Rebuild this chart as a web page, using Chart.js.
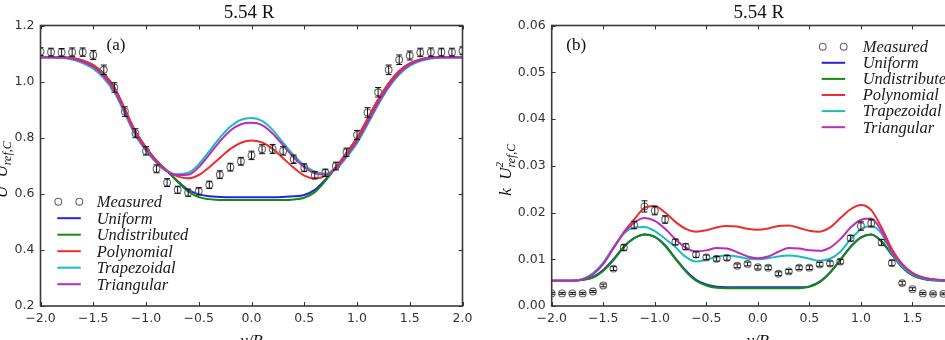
<!DOCTYPE html>
<html>
<head>
<meta charset="utf-8">
<script src="https://cdn.jsdelivr.net/npm/chart.js@4.4.1/dist/chart.umd.min.js"></script>
<style>
  html, body { margin: 0; padding: 0; background: #fff; }
  body { width: 945px; height: 340px; overflow: hidden; position: relative; }
  .panel { position: absolute; top: 0; height: 340px; }
  #wrapA { left: 0; width: 480px; }
  #wrapB { left: 480px; width: 500px; }
</style>
</head>
<body>
<div class="panel" id="wrapA"><canvas id="chartA" width="480" height="340"></canvas></div>
<div class="panel" id="wrapB"><canvas id="chartB" width="500" height="340"></canvas></div>
<script>
// --- data ---
const xGrid = [-2.0, -1.9, -1.8, -1.7, -1.6, -1.5, -1.4, -1.3, -1.2, -1.1, -1.0, -0.9, -0.8, -0.7, -0.6, -0.5, -0.4, -0.3, -0.2, -0.1,
  0.0, 0.1, 0.2, 0.3, 0.4, 0.5, 0.6, 0.7, 0.8, 0.9, 1.0, 1.1, 1.2, 1.3, 1.4, 1.5, 1.6, 1.7, 1.8, 1.9, 2.0];
const xTicks = [-2.0, -1.5, -1.0, -0.5, 0.0, 0.5, 1.0, 1.5, 2.0];
const yTicksA = [0.2, 0.4, 0.6, 0.8, 1.0, 1.2];
const yTicksB = [0.00, 0.01, 0.02, 0.03, 0.04, 0.05, 0.06];
const seriesNames = ["Measured", "Uniform", "Undistributed", "Polynomial", "Trapezoidal", "Triangular"];

// (a) U / U_ref,C
const measXA = xGrid;
const measA = [1.107, 1.105, 1.104, 1.105, 1.105, 1.095, 1.042, 0.979, 0.893, 0.816, 0.753, 0.689, 0.640, 0.614, 0.604, 0.609, 0.632, 0.668, 0.695, 0.716,
  0.737, 0.759, 0.760, 0.753, 0.723, 0.693, 0.666, 0.675, 0.699, 0.748, 0.810, 0.890, 0.962, 1.042, 1.078, 1.093, 1.104, 1.105, 1.105, 1.105, 1.110];
const errA = [0.014, 0.014, 0.014, 0.015, 0.015, 0.016, 0.017, 0.017, 0.017, 0.016, 0.015, 0.014, 0.014, 0.013, 0.013, 0.013, 0.013, 0.014, 0.014, 0.014,
  0.015, 0.016, 0.016, 0.015, 0.015, 0.014, 0.013, 0.013, 0.014, 0.015, 0.016, 0.017, 0.017, 0.017, 0.017, 0.016, 0.015, 0.015, 0.014, 0.014, 0.014];
const uniformA = [1.087, 1.087, 1.086, 1.083, 1.073, 1.057, 1.025, 0.975, 0.897, 0.818, 0.762, 0.716, 0.681, 0.645, 0.614, 0.598, 0.591, 0.589, 0.588, 0.588,
  0.588, 0.588, 0.588, 0.589, 0.591, 0.596, 0.614, 0.650, 0.694, 0.742, 0.795, 0.862, 0.930, 0.990, 1.035, 1.063, 1.078, 1.085, 1.087, 1.087, 1.087];
const undistA = [1.087, 1.087, 1.086, 1.084, 1.075, 1.059, 1.028, 0.979, 0.901, 0.822, 0.765, 0.718, 0.682, 0.643, 0.608, 0.588, 0.581, 0.578, 0.578, 0.578,
  0.578, 0.578, 0.578, 0.578, 0.580, 0.586, 0.606, 0.646, 0.694, 0.744, 0.798, 0.866, 0.934, 0.993, 1.037, 1.064, 1.079, 1.085, 1.087, 1.087, 1.087];
const polyA = [1.087, 1.087, 1.086, 1.084, 1.075, 1.059, 1.028, 0.979, 0.902, 0.823, 0.766, 0.718, 0.682, 0.662, 0.655, 0.667, 0.695, 0.728, 0.760, 0.782,
  0.790, 0.783, 0.760, 0.727, 0.693, 0.665, 0.655, 0.664, 0.696, 0.746, 0.800, 0.868, 0.936, 0.994, 1.038, 1.065, 1.079, 1.085, 1.087, 1.087, 1.087];
const trapA = [1.087, 1.087, 1.085, 1.079, 1.066, 1.046, 1.012, 0.962, 0.885, 0.808, 0.754, 0.710, 0.680, 0.670, 0.675, 0.705, 0.752, 0.800, 0.840, 0.864,
  0.870, 0.860, 0.828, 0.782, 0.738, 0.702, 0.679, 0.672, 0.688, 0.730, 0.780, 0.847, 0.917, 0.978, 1.025, 1.056, 1.073, 1.082, 1.086, 1.087, 1.087];
const triA = [1.087, 1.087, 1.086, 1.081, 1.070, 1.052, 1.019, 0.969, 0.892, 0.813, 0.758, 0.713, 0.680, 0.667, 0.668, 0.695, 0.740, 0.787, 0.826, 0.848,
  0.853, 0.845, 0.815, 0.773, 0.730, 0.695, 0.673, 0.668, 0.690, 0.736, 0.787, 0.854, 0.923, 0.984, 1.030, 1.060, 1.076, 1.084, 1.087, 1.087, 1.087];

// (b) k / U^2_ref,C
const measXB = [-2.0, -1.9, -1.8, -1.7, -1.6, -1.5, -1.4, -1.3, -1.2, -1.1, -1.0, -0.9, -0.8, -0.7, -0.6, -0.5, -0.4, -0.3, -0.2, -0.1,
  0.0, 0.1, 0.2, 0.3, 0.4, 0.5, 0.6, 0.7, 0.8, 0.9, 1.0, 1.1, 1.2, 1.3, 1.4, 1.5, 1.6, 1.7, 1.8];
const measB = [0.0027, 0.0027, 0.0027, 0.0027, 0.0031, 0.0044, 0.0080, 0.0125, 0.0173, 0.0213, 0.0204, 0.0185, 0.0137, 0.0127, 0.0110, 0.0104, 0.0101, 0.0103, 0.0086, 0.0090,
  0.0083, 0.0082, 0.0069, 0.0074, 0.0082, 0.0082, 0.0089, 0.0091, 0.0095, 0.0145, 0.0171, 0.0177, 0.0136, 0.0092, 0.0049, 0.0036, 0.0027, 0.0026, 0.0026];
const errB = [0.0002, 0.0002, 0.0002, 0.0002, 0.0002, 0.0003, 0.0004, 0.0006, 0.0008, 0.0012, 0.0009, 0.0008, 0.0006, 0.0006, 0.0006, 0.0005, 0.0005, 0.0005, 0.0004, 0.0004,
  0.0004, 0.0004, 0.0004, 0.0004, 0.0004, 0.0004, 0.0004, 0.0005, 0.0005, 0.0006, 0.0009, 0.0008, 0.0006, 0.0006, 0.0004, 0.0003, 0.0002, 0.0002, 0.0002];
const uniformB = [0.0054, 0.0054, 0.0054, 0.0056, 0.0062, 0.0077, 0.0100, 0.0127, 0.0145, 0.0153, 0.0148, 0.0130, 0.0102, 0.0076, 0.0056, 0.0046, 0.0041, 0.0040, 0.0040, 0.0040,
  0.0040, 0.0040, 0.0040, 0.0040, 0.0040, 0.0042, 0.0052, 0.0072, 0.0099, 0.0127, 0.0147, 0.0153, 0.0138, 0.0110, 0.0083, 0.0066, 0.0058, 0.0055, 0.0054, 0.0054, 0.0054];
const undistB = [0.0054, 0.0054, 0.0054, 0.0056, 0.0061, 0.0075, 0.0098, 0.0126, 0.0145, 0.0153, 0.0148, 0.0129, 0.0101, 0.0074, 0.0054, 0.0044, 0.0039, 0.0038, 0.0038, 0.0038,
  0.0038, 0.0038, 0.0038, 0.0038, 0.0038, 0.0041, 0.0051, 0.0071, 0.0098, 0.0126, 0.0146, 0.0153, 0.0138, 0.0110, 0.0083, 0.0066, 0.0058, 0.0055, 0.0054, 0.0054, 0.0054];
const polyB = [0.0054, 0.0054, 0.0054, 0.0057, 0.0068, 0.0090, 0.0124, 0.0158, 0.0185, 0.0210, 0.0214, 0.0200, 0.0180, 0.0165, 0.0159, 0.0162, 0.0168, 0.0171, 0.0170, 0.0165,
  0.0163, 0.0166, 0.0171, 0.0172, 0.0167, 0.0161, 0.0159, 0.0168, 0.0188, 0.0207, 0.0216, 0.0205, 0.0168, 0.0122, 0.0090, 0.0071, 0.0061, 0.0057, 0.0055, 0.0054, 0.0054];
const trapB = [0.0054, 0.0054, 0.0054, 0.0058, 0.0070, 0.0093, 0.0126, 0.0155, 0.0168, 0.0169, 0.0160, 0.0144, 0.0126, 0.0105, 0.0095, 0.0099, 0.0105, 0.0108, 0.0106, 0.0101,
  0.0100, 0.0102, 0.0106, 0.0108, 0.0106, 0.0101, 0.0097, 0.0101, 0.0116, 0.0143, 0.0164, 0.0171, 0.0155, 0.0114, 0.0085, 0.0068, 0.0060, 0.0056, 0.0055, 0.0054, 0.0054];
const triB = [0.0054, 0.0054, 0.0054, 0.0057, 0.0068, 0.0090, 0.0124, 0.0156, 0.0178, 0.0188, 0.0182, 0.0165, 0.0143, 0.0125, 0.0117, 0.0119, 0.0124, 0.0123, 0.0115, 0.0106,
  0.0102, 0.0106, 0.0116, 0.0124, 0.0123, 0.0119, 0.0118, 0.0125, 0.0143, 0.0168, 0.0184, 0.0187, 0.0160, 0.0116, 0.0088, 0.0070, 0.0061, 0.0057, 0.0055, 0.0054, 0.0054];

// --- styles ---
const lineColors = ["#2424e0", "#138a13", "#ee2c2c", "#1cbcbc", "#bb2cbb"];
const TICK_FONT = { family: "DejaVu Sans", size: 12.5 };
const SERIF = "'Liberation Serif', 'Times New Roman', serif";

function fmt(v, d) {
  return Number(v).toFixed(d).replace("-", "\u2212");
}

function pts(xs, ys) {
  return xs.map((x, i) => ({ x: x, y: ys[i] }));
}

function buildDatasets(measX, meas, err, lines) {
  const ds = [{
    label: seriesNames[0],
    data: pts(measX, meas),
    errors: err,
    showLine: false,
    pointStyle: "circle",
    pointRadius: 3.4,
    pointBorderColor: "#666",
    pointBackgroundColor: "rgba(0,0,0,0)",
    pointBorderWidth: 1.1,
    order: 0,
    clip: 0,
  }];
  lines.forEach((ys, i) => {
    ds.push({
      label: seriesNames[i + 1],
      data: pts(xGrid, ys),
      borderColor: lineColors[i],
      borderWidth: 2,
      pointRadius: 0,
      cubicInterpolationMode: "monotone",
      fill: false,
      order: 5 - i,
      clip: 0,
    });
  });
  return ds;
}

// --- decorations: error bars, frame, inward ticks, titles, legend ---
function drawRich(ctx, parts, x, y) {
  // parts: {t, size, dy, keep}
  let cx = x;
  parts.forEach((p) => {
    ctx.font = "italic " + p.size + "px " + SERIF;
    ctx.fillText(p.t, cx, y + (p.dy || 0));
    if (!p.keep) cx += ctx.measureText(p.t).width;
  });
  return cx - x;
}

function richWidth(ctx, parts) {
  let w = 0;
  parts.forEach((p) => {
    ctx.font = "italic " + p.size + "px " + SERIF;
    if (!p.keep) w += ctx.measureText(p.t).width;
  });
  return w;
}

const decor = {
  id: "decor",
  afterDatasetsDraw(chart) {
    const ctx = chart.ctx;
    const a = chart.chartArea;
    const ds = chart.data.datasets[0];
    const meta = chart.getDatasetMeta(0);
    const ys = chart.scales.y;
    ctx.save();
    ctx.beginPath();
    ctx.rect(a.left, a.top, a.right - a.left, a.bottom - a.top);
    ctx.clip();
    ctx.strokeStyle = "#111";
    ctx.lineWidth = 1;
    ds.data.forEach((p, i) => {
      const e = ds.errors[i];
      const px = meta.data[i].x;
      const y1 = ys.getPixelForValue(p.y + e);
      const y2 = ys.getPixelForValue(p.y - e);
      ctx.beginPath();
      ctx.moveTo(px, y1); ctx.lineTo(px, y2);
      ctx.moveTo(px - 3, y1); ctx.lineTo(px + 3, y1);
      ctx.moveTo(px - 3, y2); ctx.lineTo(px + 3, y2);
      ctx.stroke();
    });
    ctx.restore();
  },
  afterDraw(chart, args, o) {
    const ctx = chart.ctx;
    const a = chart.chartArea;
    const xs = chart.scales.x;
    const ys = chart.scales.y;
    ctx.save();

    // inward ticks
    ctx.strokeStyle = "#333";
    ctx.lineWidth = 1;
    ctx.beginPath();
    xTicks.forEach((v) => {
      const px = Math.round(xs.getPixelForValue(v)) + 0.5;
      ctx.moveTo(px, a.bottom); ctx.lineTo(px, a.bottom - 4);
      ctx.moveTo(px, a.top); ctx.lineTo(px, a.top + 4);
    });
    o.yTicks.forEach((v) => {
      const py = Math.round(ys.getPixelForValue(v)) + 0.5;
      ctx.moveTo(a.left, py); ctx.lineTo(a.left + 4, py);
      ctx.moveTo(a.right, py); ctx.lineTo(a.right - 4, py);
    });
    ctx.stroke();

    // frame
    ctx.strokeStyle = "#3a3a3a";
    ctx.lineWidth = 1.6;
    ctx.strokeRect(a.left, a.top, a.right - a.left, a.bottom - a.top);

    // title
    ctx.fillStyle = "#111";
    ctx.textAlign = "center";
    ctx.textBaseline = "middle";
    ctx.font = "19px " + SERIF;
    ctx.fillText(o.title, (a.left + a.right) / 2 + o.titleDx, 13);

    // panel label
    ctx.font = "17px " + SERIF;
    ctx.fillText(o.panel, a.left + o.panelDx, 46);

    // x axis title (cut by the window bottom)
    ctx.textBaseline = "top";
    ctx.font = "italic 17px " + SERIF;
    ctx.fillText(o.xTitle, (a.left + a.right) / 2, 333);

    // y axis title, rotated
    ctx.save();
    ctx.translate(o.yTitleX, (a.top + a.bottom) / 2 + 4);
    ctx.rotate(-Math.PI / 2);
    ctx.textAlign = "left";
    ctx.textBaseline = "alphabetic";
    const w = richWidth(ctx, o.yTitle);
    drawRich(ctx, o.yTitle, -w / 2, 0);
    ctx.restore();

    // legend
    const L = o.legend;
    ctx.textAlign = "left";
    ctx.textBaseline = "middle";
    chart.data.datasets.forEach((d, i) => {
      const ry = L.top + i * L.row;
      const x0 = a.left + L.dx;
      if (i === 0) {
        ctx.strokeStyle = "#666";
        ctx.lineWidth = 1.1;
        [x0 + 1, x0 + 22].forEach((cx) => {
          ctx.beginPath();
          ctx.arc(cx, ry, 3.4, 0, Math.PI * 2);
          ctx.stroke();
        });
      } else {
        ctx.strokeStyle = d.borderColor;
        ctx.lineWidth = 2;
        ctx.beginPath();
        ctx.moveTo(x0, ry); ctx.lineTo(x0 + 23.5, ry);
        ctx.stroke();
      }
      ctx.fillStyle = "#1a1a1a";
      ctx.font = "italic 16.5px " + SERIF;
      ctx.fillText(d.label, x0 + L.textDx, ry + 1);
    });
    ctx.restore();
  },
};

function makeChart(id, datasets, yMin, yMax, yTicks, yDigits, yWidth, padRight, deco) {
  return new Chart(document.getElementById(id), {
    type: "line",
    data: { datasets: datasets },
    options: {
      responsive: false,
      animation: false,
      events: [],
      layout: { padding: { top: 25.5, right: padRight, left: 0, bottom: 0 } },
      plugins: {
        legend: { display: false },
        tooltip: { enabled: false },
        decor: deco,
      },
      scales: {
        x: {
          type: "linear",
          min: -2,
          max: 2,
          afterBuildTicks: (s) => { s.ticks = xTicks.map((v) => ({ value: v })); },
          afterFit: (s) => { s.height = 34; },
          grid: { display: false, drawTicks: false },
          border: { display: false },
          ticks: {
            font: TICK_FONT, color: "#333", padding: 5,
            autoSkip: false, maxRotation: 0,
            callback: (v) => fmt(v, 1),
          },
        },
        y: {
          type: "linear",
          min: yMin,
          max: yMax,
          afterBuildTicks: (s) => { s.ticks = yTicks.map((v) => ({ value: v })); },
          afterFit: (s) => { s.width = yWidth; },
          grid: { display: false, drawTicks: false },
          border: { display: false },
          ticks: {
            font: TICK_FONT, color: "#333", padding: 6,
            callback: (v) => fmt(v, yDigits),
          },
        },
      },
    },
    plugins: [decor],
  });
}

makeChart("chartA",
  buildDatasets(measXA, measA, errA, [uniformA, undistA, polyA, trapA, triA]),
  0.2, 1.2, yTicksA, 1, 40.5, 17.5,
  {
    title: "5.54 R", titleDx: -2.5, panel: "(a)", panelDx: 75.5, xTitle: "y/R",
    yTicks: yTicksA, yTitleX: 7,
    yTitle: [{ t: "U", size: 17 }, { t: "  ", size: 17 }, { t: "U", size: 17 }, { t: "ref,C", size: 12, dy: 4 }],
    legend: { top: 201.7, row: 16.5, dx: 16.8, textDx: 39.4 },
  });

makeChart("chartB",
  buildDatasets(measXB, measB, errB, [uniformB, undistB, polyB, trapB, triB]),
  0, 0.06, yTicksB, 2, 71.7, 16,
  {
    title: "5.54 R", titleDx: 1, panel: "(b)", panelDx: 24.5, xTitle: "y/R",
    yTicks: yTicksB, yTitleX: 31,
    yTitle: [{ t: "k", size: 17 }, { t: "  ", size: 17 }, { t: "U", size: 17 }, { t: "2", size: 11, dy: -8, keep: true }, { t: "ref,C", size: 12, dy: 4 }],
    legend: { top: 46.7, row: 16.1, dx: 270, textDx: 41 },
  });
</script>
</body>
</html>
